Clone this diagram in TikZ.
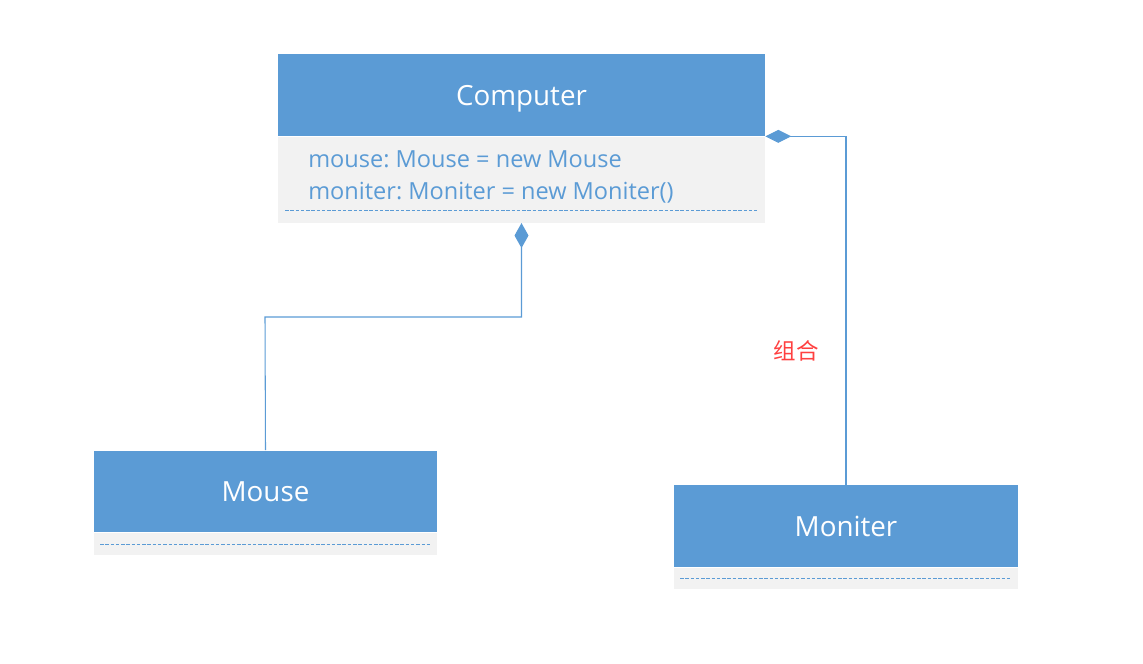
\documentclass[tikz,border=0pt]{standalone}
\usepackage{fontspec}
\setmainfont{Open Sans}
\newfontfamily\cjk{Noto Sans CJK SC}
\usetikzlibrary{positioning,arrows.meta}
\frenchspacing

\definecolor{umlblue}{HTML}{5B9BD5}
\definecolor{umlgray}{HTML}{F2F2F2}
\definecolor{umlred}{HTML}{FF4040}

\tikzset{
    classhead/.style={fill=umlblue, draw=none, text=white, font=\fontsize{15.8}{18}\selectfont,
        minimum height=1.64cm, inner sep=0pt, text depth=0pt},
    classbody/.style={fill=umlgray, draw=none, inner sep=0pt},
    attr/.style={text=umlblue, font=\fontsize{13.4}{18.2}\selectfont, align=left, inner sep=0pt},
    sep/.style={umlblue, dashed, dash pattern=on 2pt off 1pt, line width=0.4pt},
    comp/.style={umlblue, line width=0.6pt},
}

\begin{document}
\begin{tikzpicture}[x=0.02cm, y=-0.02cm]
    \useasboundingbox (0,0) rectangle (1143,663);

    % Classe Computer
    \node[classhead, minimum width=9.74cm] (chead) at (521.5, 95) {Computer};
    \node[classbody, minimum width=9.74cm, minimum height=1.72cm, below=0pt of chead] (cbody) {};
    \node[attr, anchor=west] (cattr) at (308, 177)
        {mouse: Mouse = new Mouse\\moniter: Moniter = new Moniter()};
    \draw[sep] (285, 210) -- (757, 210);

    % Classe Mouse
    \node[classhead, minimum width=6.86cm] (mhead) at (265.5, 491.5) {Mouse};
    \node[classbody, minimum width=6.86cm, minimum height=0.44cm, below=0pt of mhead] (mbody) {};
    \draw[sep] (100, 544) -- (431, 544);

    % Classe Moniter
    \node[classhead, minimum width=6.88cm] (nhead) at (846, 526) {Moniter};
    \node[classbody, minimum width=6.88cm, minimum height=0.42cm, below=0pt of nhead] (nbody) {};
    \draw[sep] (680, 578) -- (1010, 578);

    % Composizioni
    \draw[comp, -{Diamond[length=0.5cm, width=0.28cm, fill=umlblue]}]
        (mhead.north) -- (265, 317) -| (cbody.south);
    \draw[comp, -{Diamond[length=0.52cm, width=0.26cm, fill=umlblue]}]
        (nhead.north) |- (cbody.north east);
    \node[text=umlred, font=\cjk\fontsize{12.8}{14}\selectfont] (lbl) at (796, 351) {组合};
\end{tikzpicture}
\end{document}
